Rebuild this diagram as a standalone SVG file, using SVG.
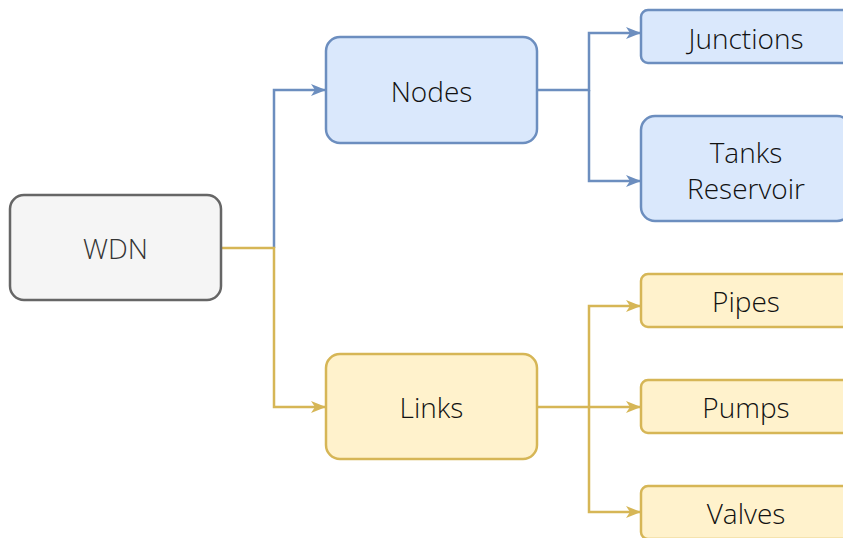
<svg xmlns="http://www.w3.org/2000/svg" width="843" height="538" viewBox="0 0 843 538">
<style>
.t{font-family:"Open Sans","Noto Sans","Liberation Sans",sans-serif;font-size:28px;font-weight:300;text-anchor:middle;dominant-baseline:central;fill:#111111}
.gray rect{fill:#f5f5f5;stroke:#666666;stroke-width:2.5}
.blue rect{fill:#dae8fc;stroke:#6c8ebf;stroke-width:2.5}
.yel rect{fill:#fff2cc;stroke:#d6b656;stroke-width:2.5}
.cb{fill:none;stroke:#6c8ebf;stroke-width:2.5}
.cy{fill:none;stroke:#d6b656;stroke-width:2.5}
</style>
<defs>
<marker id="ab" markerWidth="16" markerHeight="14" refX="14" refY="7" orient="auto" markerUnits="userSpaceOnUse"><path d="M0,1 L15,7 L0,13 L4,7 Z" fill="#6c8ebf"/></marker>
<marker id="ay" markerWidth="16" markerHeight="14" refX="14" refY="7" orient="auto" markerUnits="userSpaceOnUse"><path d="M0,1 L15,7 L0,13 L4,7 Z" fill="#d6b656"/></marker>
</defs>
<g id="connectors">
<path class="cb" d="M274,248 L274,90 L325,90" marker-end="url(#ab)"/>
<path class="cy" d="M221,248 L274,248 L274,407 L325,407" marker-end="url(#ay)"/>
<path class="cb" d="M537,90 L589,90 L589,33 L640,33" marker-end="url(#ab)"/>
<path class="cb" d="M589,90 L589,181 L640,181" marker-end="url(#ab)"/>
<path class="cy" d="M537,407 L640,407" marker-end="url(#ay)"/>
<path class="cy" d="M589,407 L589,306 L640,306" marker-end="url(#ay)"/>
<path class="cy" d="M589,407 L589,512 L640,512" marker-end="url(#ay)"/>
</g>
<g id="wdn" class="gray"><rect x="10" y="195" width="211" height="105" rx="14"/><text class="t" x="115.5" y="248" style="fill:#333333">WDN</text></g>
<g id="nodes" class="blue"><rect x="326" y="37" width="211" height="106" rx="14"/><text class="t" x="431.5" y="91">Nodes</text></g>
<g id="links" class="yel"><rect x="326" y="354" width="211" height="105" rx="14"/><text class="t" x="431.5" y="407">Links</text></g>
<g id="junctions" class="blue"><rect x="641" y="10" width="210" height="53" rx="7"/><text class="t" x="746" y="38">Junctions</text></g>
<g id="tanks" class="blue"><rect x="641" y="116" width="210" height="105" rx="14"/><text class="t" x="746" y="152">Tanks</text><text class="t" x="746" y="188">Reservoir</text></g>
<g id="pipes" class="yel"><rect x="641" y="274" width="210" height="53" rx="7"/><text class="t" x="746" y="301">Pipes</text></g>
<g id="pumps" class="yel"><rect x="641" y="380" width="210" height="53" rx="7"/><text class="t" x="746" y="407">Pumps</text></g>
<g id="valves" class="yel"><rect x="641" y="486" width="210" height="53" rx="7"/><text class="t" x="746" y="513">Valves</text></g>
</svg>
